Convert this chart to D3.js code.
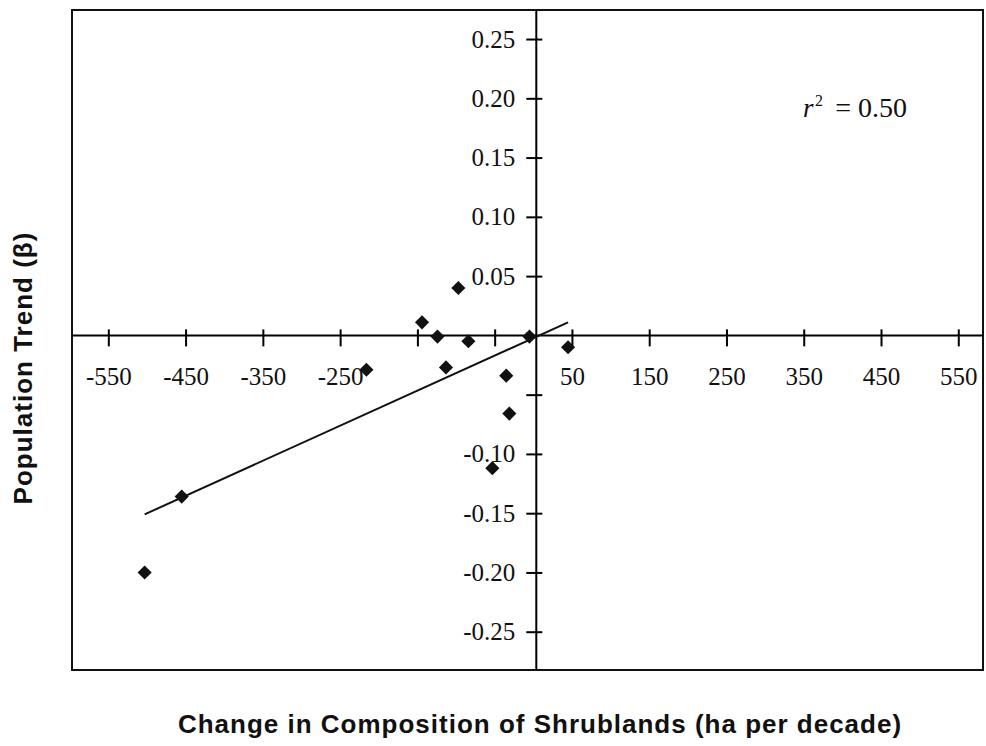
<!DOCTYPE html>
<html>
<head>
<meta charset="utf-8">
<script src="https://cdn.jsdelivr.net/npm/d3@7"></script>
<style>
  body { margin: 0; background: #fff; }
  svg { display: block; }
</style>
</head>
<body>
<script>
// change in shrubland composition (ha/decade) vs population trend (beta)
const shrubChange = [-503, -455, -216, -144, -124, -97, -113, -84, -35, -31, -53, 45, -5];
const popTrend    = [-0.200, -0.136, -0.029, 0.011, -0.001, 0.040, -0.027, -0.005, -0.034, -0.066, -0.112, -0.010, -0.001];

// fitted line end points
const fitX = [-503, 45];
const fitY = [-0.151, 0.011];

const xTicks = [-550, -450, -350, -250, -150, -50, 50, 150, 250, 350, 450, 550];
const xTickLabels = [-550, -450, -350, -250, 50, 150, 250, 350, 450, 550];
const yTicks = [0.25, 0.20, 0.15, 0.10, 0.05, -0.05, -0.10, -0.15, -0.20, -0.25];
const yTickLabels = [0.25, 0.20, 0.15, 0.10, 0.05, -0.10, -0.15, -0.20, -0.25];

const width = 986, height = 746;
const box = {left: 72, right: 983, top: 10, bottom: 670};
const serif = "'Liberation Serif', 'Times New Roman', serif";
const sans = "'Liberation Sans', Arial, sans-serif";

const x = d3.scaleLinear().domain([-597, 582]).range([box.left, box.right]);
const y = d3.scaleLinear().domain([-0.2823, 0.2745]).range([box.bottom, box.top]);

const svg = d3.select("body").append("svg")
    .attr("width", width)
    .attr("height", height)
    .attr("viewBox", [0, 0, width, height]);

svg.append("rect")
    .attr("x", box.left).attr("y", box.top)
    .attr("width", box.right - box.left).attr("height", box.bottom - box.top)
    .attr("fill", "none").attr("stroke", "#111").attr("stroke-width", 2);

// x axis through y = 0
const xAxis = d3.axisBottom(x)
    .tickValues(xTicks)
    .tickSize(11)
    .tickFormat(d => xTickLabels.includes(d) ? String(d) : "");

const gx = svg.append("g")
    .attr("transform", `translate(0,${y(0)})`)
    .call(xAxis);
gx.select(".domain").attr("d", `M${box.left},0H${box.right}`).attr("stroke-width", 2);
gx.selectAll(".tick line").attr("y1", -6).attr("stroke-width", 2);
gx.selectAll(".tick text")
    .attr("y", 32).attr("dy", "0.71em")
    .attr("font-family", serif)
    .attr("font-size", 25).attr("fill", "#111");

// y axis through x = 0 (plain hyphen for negatives, as in the figure)
const fmt = d3.format(".2f");
const yAxis = d3.axisLeft(y)
    .tickValues(yTicks)
    .tickSize(10)
    .tickFormat(d => yTickLabels.includes(d) ? fmt(d).replace("\u2212", "-") : "");

const gy = svg.append("g")
    .attr("transform", `translate(${x(0) + 3},0)`)
    .call(yAxis);
gy.select(".domain").attr("d", `M0,${box.top}V${box.bottom}`).attr("stroke-width", 2);
gy.selectAll(".tick line").attr("x1", 6).attr("stroke-width", 2);
gy.selectAll(".tick text")
    .attr("x", -21)
    .attr("font-family", serif)
    .attr("font-size", 25).attr("fill", "#111");

// regression line
svg.append("line")
    .attr("x1", x(fitX[0])).attr("y1", y(fitY[0]))
    .attr("x2", x(fitX[1])).attr("y2", y(fitY[1]))
    .attr("stroke", "#111").attr("stroke-width", 2);

// points
const pts = shrubChange.map((d, i) => [d, popTrend[i]]);
svg.append("g").selectAll("path")
    .data(pts)
    .join("path")
    .attr("d", d3.symbol(d3.symbolSquare, 100))
    .attr("transform", d => `translate(${x(d[0])},${y(d[1])}) rotate(45)`)
    .attr("fill", "#111");

// r squared
const rg = svg.append("g")
    .attr("font-family", serif).attr("fill", "#111");
rg.append("text").attr("x", 803).attr("y", 117)
    .attr("font-size", 27).attr("font-style", "italic").text("r");
rg.append("text").attr("x", 815).attr("y", 106)
    .attr("font-size", 16).text("2");
rg.append("text").attr("x", 907).attr("y", 117)
    .attr("text-anchor", "end")
    .attr("font-size", 28).text("= 0.50");

// axis titles
svg.append("text")
    .attr("x", 540).attr("y", 733)
    .attr("text-anchor", "middle")
    .attr("font-family", sans)
    .attr("font-size", 26).attr("font-weight", "bold")
    .attr("letter-spacing", 1)
    .attr("fill", "#111")
    .text("Change in Composition of Shrublands (ha per decade)");

svg.append("text")
    .attr("transform", "translate(32,368) rotate(-90)")
    .attr("text-anchor", "middle")
    .attr("font-family", sans)
    .attr("font-size", 26).attr("font-weight", "bold")
    .attr("letter-spacing", 1)
    .attr("fill", "#111")
    .text("Population Trend (β)");
</script>
</body>
</html>
